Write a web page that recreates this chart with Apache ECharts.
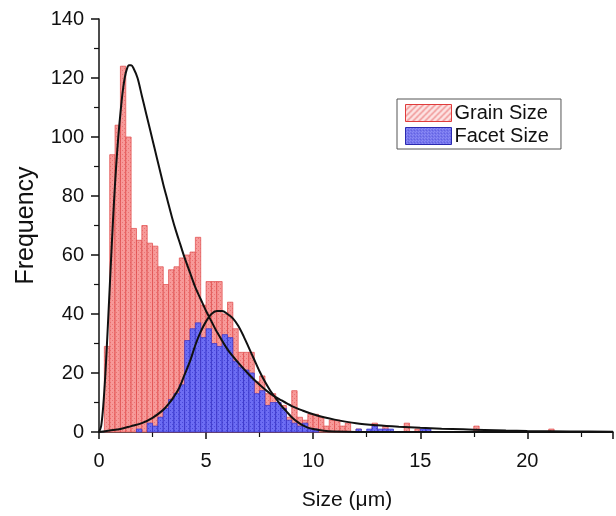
<!DOCTYPE html>
<html>
<head>
<meta charset="utf-8">
<script src="https://cdn.jsdelivr.net/npm/echarts@6/dist/echarts.min.js"></script>
<style>
html,body{margin:0;padding:0;background:#fff;}
#chart{width:616px;height:516px;}
</style>
</head>
<body>
<div id="chart"></div>
<script>
// ---- data ----
const binWidth = 0.25; // µm
const grainCounts = [0,29,94,104,124,100,69,65,70,64,63,56,50,55,56,59,60,61,66,43,51,51,51,40,44,35,27,27,27,17,19,13,13,10,9,5,14,5,4,6,6,5,2,4,4,2,3,0,1,0,0,3,0,2,0,0,0,3,0,1,0,0,0,0,0,0,0,0,0,0,2,0,0,0,0,0,0,0,0,0,0,0,0,0,1];
const facetCounts = [0,0,0,0,0,0,0,1,0,3,2,5,8,11,13,16,31,35,37,32,35,30,29,33,32,24,22,21,20,13,14,9,10,10,8,4,3,2,3,1,1,0,0,0,0,0,0,0,1,0,1,2,1,1,1,0,0,0,0,0,1,1];
const grainFitX = [0,0.1,0.2,0.3,0.4,0.5,0.6,0.7,0.8,0.9,1.0,1.1,1.2,1.3,1.4,1.5,1.6,1.8,2.0,2.2,2.4,2.6,2.8,3.0,3.2,3.4,3.6,3.8,4.0,4.25,4.5,4.75,5.0,5.25,5.5,6.0,6.5,7.0,7.5,8.0,8.5,9.0,9.5,10,10.5,11,12,13,14,15,16,17,18,19,20,22,24];
const grainFitY = [0,2,9,20,34,49,64,78,90,100,108,115,120,123,124.3,124.3,123.5,120,114,108,102,96,90,84,78.5,73,68,63.5,59,54,49,45,41,37.5,34,28,23.5,19.5,16,13,10.8,8.8,7.3,6.0,5.0,4.2,3.0,2.3,1.8,1.4,1.1,0.9,0.7,0.5,0.35,0.2,0.1];
const facetFitX = [0,0.5,1.0,1.5,2.0,2.5,3.0,3.25,3.5,3.75,4.0,4.25,4.5,4.75,5.0,5.25,5.5,5.75,6.0,6.25,6.5,6.75,7.0,7.25,7.5,7.75,8.0,8.25,8.5,8.75,9.0,9.25,9.5,9.75,10,10.5,11,12,24];
const facetFitY = [0,0.5,1,2,3,4.8,7.5,9.5,12,15,19.5,24,29.5,34,37.5,40,41,41,40,38.5,36,32.5,28.5,24.5,20.5,17,14,11.5,9,7,5,3.5,2.3,1.5,1.0,0.4,0.15,0,0];
const seriesNames = ['Grain Size','Facet Size'];
const xTicks = {min:0, max:24, interval:5};
const yTicks = {min:0, max:140, interval:20};

function toBins(counts){
  const out = [];
  counts.forEach((c,i)=>{ if(c>0) out.push([i*binWidth,(i+1)*binWidth,c]); });
  return out;
}
function zip(xs, ys){ return xs.map((x,i)=>[x, ys[i]]); }

function makePattern(bg, dot, size){
  const c = document.createElement('canvas');
  c.width = size; c.height = size;
  const g = c.getContext('2d');
  g.fillStyle = bg; g.fillRect(0,0,size,size);
  g.fillStyle = dot; g.fillRect(0,0,1,1); g.fillRect(2,2,1,1);
  return {image:c, repeat:'repeat'};
}
function makeHatch(bg, line){
  const c = document.createElement('canvas');
  c.width = 6; c.height = 6;
  const g = c.getContext('2d');
  g.fillStyle = bg; g.fillRect(0,0,6,6);
  g.strokeStyle = line; g.lineWidth = 1.3;
  g.beginPath(); g.moveTo(-1,7); g.lineTo(7,-1); g.moveTo(-1,1); g.lineTo(1,-1); g.moveTo(5,7); g.lineTo(7,5); g.stroke();
  return {image:c, repeat:'repeat'};
}
const redFill = makePattern('#f79a99','#ea7373',4);
const blueFill = makePattern('#6d6df3','#4848da',4);
const redLegend = makeHatch('#fde4e4','#ee8a8a');
const blueLegend = makePattern('#8a8af6','#3a3ad0',3);

function histSeries(name, counts, fill, stroke){
  return {
    type:'custom', name:name,
    data: toBins(counts),
    encode:{x:[0,1], y:2},
    itemStyle:{color:fill},
    renderItem:function(params, api){
      const p0 = api.coord([api.value(0), api.value(2)]);
      const p1 = api.coord([api.value(1), 0]);
      return {type:'rect', shape:{x:p0[0], y:p0[1], width:p1[0]-p0[0], height:p1[1]-p0[1]},
        style:{fill:fill, stroke:stroke, lineWidth:0.7}};
    }
  };
}

const chart = echarts.init(document.getElementById('chart'), null, {renderer:'canvas'});
chart.setOption({
  animation:false,
  backgroundColor:'#fff',
  textStyle:{fontFamily:'Liberation Sans, Arial, sans-serif'},
  grid:{left:99, right:2, top:19, bottom:79},
  legend:{
    orient:'vertical', left:397, top:99,
    itemWidth:46, itemHeight:17, itemGap:3,
    padding:[4,12,3,8],
    borderColor:'#555', borderWidth:1,
    textStyle:{fontSize:20, color:'#111', padding:[0,0,0,-2]},
    data:[
      {name:seriesNames[0], icon:'rect', itemStyle:{color:redLegend, borderColor:'#e03c3c', borderWidth:1}},
      {name:seriesNames[1], icon:'rect', itemStyle:{color:blueLegend, borderColor:'#2a2ab0', borderWidth:1}}
    ]
  },
  xAxis:{
    type:'value', min:xTicks.min, max:xTicks.max, interval:xTicks.interval,
    name:'Size (\u03bcm)', nameLocation:'middle', nameGap:58,
    nameTextStyle:{fontSize:21, color:'#111', padding:[0,18,0,0]},
    axisLine:{lineStyle:{color:'#111', width:1.5}},
    axisTick:{show:true, length:7, inside:false, lineStyle:{color:'#111', width:1.5}},
    minorTick:{show:true, splitNumber:2, length:5, lineStyle:{color:'#111', width:1.2}},
    axisLabel:{fontSize:20, color:'#111', margin:19, formatter:function(v){return v>=xTicks.max?'':v;}},
    splitLine:{show:false}
  },
  yAxis:{
    type:'value', min:yTicks.min, max:yTicks.max, interval:yTicks.interval,
    name:'Frequency', nameLocation:'middle', nameGap:60,
    nameTextStyle:{fontSize:25, color:'#111'},
    axisLine:{show:true, lineStyle:{color:'#111', width:1.5}},
    axisTick:{show:true, length:8, lineStyle:{color:'#111', width:1.5}},
    minorTick:{show:true, splitNumber:2, length:5, lineStyle:{color:'#111', width:1.2}},
    axisLabel:{fontSize:20, color:'#111', margin:15},
    splitLine:{show:false}
  },
  series:[
    histSeries(seriesNames[0], grainCounts, redFill, '#e04848'),
    histSeries(seriesNames[1], facetCounts, blueFill, '#3030c8'),
    {type:'line', name:'grainFit', data:zip(grainFitX, grainFitY), smooth:0.3, showSymbol:false,
      lineStyle:{color:'#111', width:2}, z:5},
    {type:'line', name:'facetFit', data:zip(facetFitX, facetFitY), smooth:0.3, showSymbol:false,
      lineStyle:{color:'#111', width:2}, z:5}
  ]
});
</script>
</body>
</html>
